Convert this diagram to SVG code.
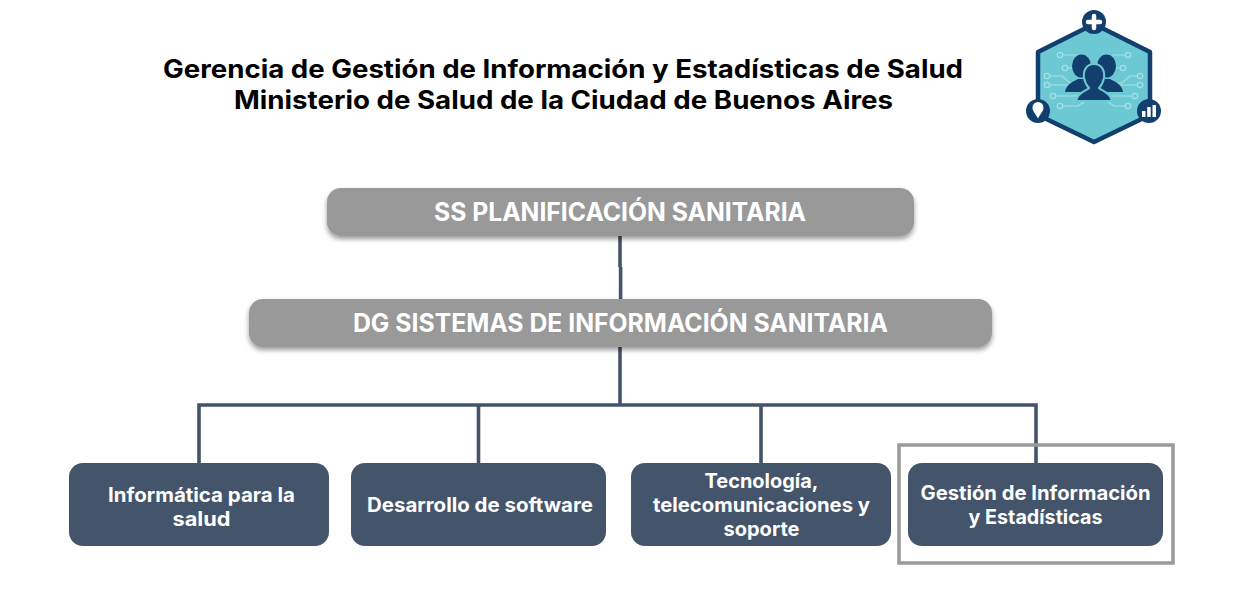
<svg xmlns="http://www.w3.org/2000/svg" width="1236" height="600" viewBox="0 0 1236 600">
<defs>
<style>
.title{font:700 25px "Inter","Liberation Sans",sans-serif;fill:#000;text-anchor:middle}
.gl{font:700 25px "Inter","Liberation Sans",sans-serif;fill:#fff;text-anchor:middle}
.bl{font:700 19.5px "Inter","Liberation Sans",sans-serif;fill:#fff;text-anchor:middle}
.gray{fill:#999999;filter:url(#sh)}
.blue{fill:#44546a}
.conn{fill:none;stroke:#44546a;stroke-width:3.6}
.trace{fill:none;stroke:#a6e0e6;stroke-width:1.2}
.dot{fill:#6cc9d4;stroke:#a6e0e6;stroke-width:1.2}
.ink{fill:#123f6d}
.halo{fill:#123f6d;stroke:#6cc9d4;stroke-width:2}
</style>
<filter id="sh" x="-5%" y="-20%" width="110%" height="150%"><feDropShadow dx="0" dy="3" stdDeviation="2.5" flood-color="#000" flood-opacity="0.4"/></filter>
</defs>
<g id="title">
<text class="title" x="563" y="77.500" textLength="800" lengthAdjust="spacingAndGlyphs">Gerencia de Gestión de Información y Estadísticas de Salud</text>
<text class="title" x="563.500" y="109" textLength="659" lengthAdjust="spacingAndGlyphs">Ministerio de Salud de la Ciudad de Buenos Aires</text>
</g>
<g id="logo">
<polygon points="1094,24 1150,52 1150,115 1094,142 1038,115 1038,52" fill="#6cc9d4" stroke="#123f6d" stroke-width="4.500" stroke-linejoin="round"/>
<path class="trace" d="M1060 55H1078M1128 55H1112M1065 68H1080M1123 68H1110M1047 76H1062L1070 83H1080M1140 76H1130L1122 83H1112M1047 85H1078M1140 85H1116M1053 96H1082M1135 96H1110M1060 106H1078L1084 102M1128 106H1114L1108 102"/>
<circle class="dot" cx="1060" cy="55" r="2.700"/><circle class="dot" cx="1128" cy="55" r="2.700"/>
<circle class="dot" cx="1065" cy="68" r="2.700"/><circle class="dot" cx="1123" cy="68" r="2.700"/>
<circle class="dot" cx="1047" cy="76" r="2.700"/><circle class="dot" cx="1140" cy="76" r="2.700"/>
<circle class="dot" cx="1047" cy="85" r="2.700"/><circle class="dot" cx="1140" cy="85" r="2.700"/>
<circle class="dot" cx="1053" cy="96" r="2.700"/><circle class="dot" cx="1135" cy="96" r="2.700"/>
<circle class="dot" cx="1060" cy="106" r="2.700"/><circle class="dot" cx="1128" cy="106" r="2.700"/>
<g class="ink">
<ellipse cx="1081.500" cy="66" rx="9.500" ry="11.500"/><path d="M1065 92C1066 85 1072 82 1078 79H1090L1094 92Z"/>
<ellipse cx="1106.500" cy="66" rx="9.500" ry="11.500"/><path d="M1123 92C1122 85 1116 82 1110 79H1098L1094 92Z"/>
</g>
<path class="halo" d="M1094 64C1086 64 1083 71 1084 78C1085 83 1087 86 1089 88C1086 91 1078 92 1076 101H1112C1110 92 1102 91 1099 88C1101 86 1103 83 1104 78C1105 71 1102 64 1094 64Z"/>
<circle class="ink" cx="1094" cy="22" r="12"/>
<path d="M1094 16V28M1088 22H1100" stroke="#fff" stroke-width="4.500" stroke-linecap="round"/>
<circle class="ink" cx="1038" cy="111" r="12"/>
<path d="M1038 118.500C1035 113 1032.500 111 1032.500 107.500A5.500 5.500 0 0 1 1043.500 107.500C1043.500 111 1041 113 1038 118.500Z" fill="#fff"/>
<circle class="ink" cx="1149" cy="111" r="12"/>
<path d="M1142 111h3.500v6h-3.500zM1147.200 107h3.500v10h-3.500zM1152.500 105h3.500v12h-3.500z" fill="#fff"/>
</g>
<g id="connectors">
<path class="conn" d="M620 236V267M620.600 267V299M620 346V405M199 463V405H1036V463M478.500 405V463M761 405V463"/>
</g>
<g id="n1"><rect class="gray" x="327" y="188" width="587" height="48" rx="14"/><text class="gl" x="620" y="221" textLength="372" lengthAdjust="spacingAndGlyphs">SS PLANIFICACIÓN SANITARIA</text></g>
<g id="n2"><rect class="gray" x="249" y="299" width="743" height="48" rx="14"/><text class="gl" x="620.500" y="332" textLength="535" lengthAdjust="spacingAndGlyphs">DG SISTEMAS DE INFORMACIÓN SANITARIA</text></g>
<g id="n3"><rect class="blue" x="69" y="463" width="260" height="83" rx="14"/><text class="bl" x="201.500" y="502" textLength="187" lengthAdjust="spacingAndGlyphs">Informática para la</text><text class="bl" x="201.500" y="526" textLength="58" lengthAdjust="spacingAndGlyphs">salud</text></g>
<g id="n4"><rect class="blue" x="351" y="463" width="255" height="83" rx="14"/><text class="bl" x="480" y="512" textLength="226" lengthAdjust="spacingAndGlyphs">Desarrollo de software</text></g>
<g id="n5"><rect class="blue" x="631" y="463" width="260" height="83" rx="14"/><text class="bl" x="761.500" y="488" textLength="114" lengthAdjust="spacingAndGlyphs">Tecnología,</text><text class="bl" x="761.500" y="512" textLength="217" lengthAdjust="spacingAndGlyphs">telecomunicaciones y</text><text class="bl" x="761.500" y="536" textLength="76" lengthAdjust="spacingAndGlyphs">soporte</text></g>
<g id="n6"><rect class="blue" x="908" y="463" width="255" height="83" rx="14"/><text class="bl" x="1035.500" y="500" textLength="230" lengthAdjust="spacingAndGlyphs">Gestión de Información</text><text class="bl" x="1035.500" y="524" textLength="134" lengthAdjust="spacingAndGlyphs">y Estadísticas</text></g>
<rect id="highlight" x="899" y="445" width="274" height="118" fill="none" stroke="#999999" stroke-width="3.500"/>
</svg>
